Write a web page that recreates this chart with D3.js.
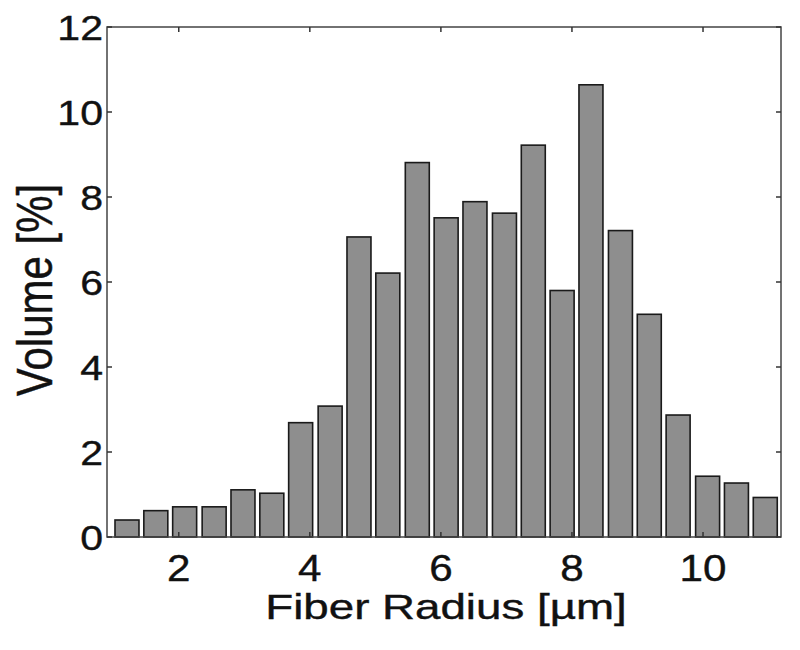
<!DOCTYPE html>
<html><head><meta charset="utf-8">
<script src="https://cdn.jsdelivr.net/npm/d3@7"></script>
<style>body{margin:0;background:#fff}text{font-family:"Liberation Sans",Arial,Helvetica,sans-serif;fill:#111}</style>
</head><body><svg id="c" width="800" height="650"></svg>
<script>
const radius = [1.21,1.65,2.09,2.54,2.98,3.42,3.86,4.31,4.75,5.19,5.64,6.08,6.52,6.97,7.41,7.85,8.29,8.74,9.18,9.62,10.07,10.51,10.95];
const volume = [0.40,0.62,0.71,0.71,1.11,1.03,2.69,3.08,7.06,6.21,8.81,7.51,7.89,7.62,9.22,5.80,10.64,7.21,5.24,2.87,1.43,1.27,0.93];
const xTicks = [2,4,6,8,10];
const yTicks = [0,2,4,6,8,10,12];
const xLabel = "Fiber Radius [\u00b5m]";
const yLabel = "Volume [%]";

const svg = d3.select("#c");
const L=107, R=781, T=27, B=537;
const x = d3.scaleLinear().domain([0.905,11.19]).range([L,R]);
const y = d3.scaleLinear().domain([0,12]).range([B,T]);
const barW = 0.366;
const sx = 1.14;

svg.append("g").selectAll("rect").data(volume).join("rect")
  .attr("x",(d,i)=>x(radius[i]-barW/2))
  .attr("width",(d,i)=>x(radius[i]+barW/2)-x(radius[i]-barW/2))
  .attr("y",d=>y(d)).attr("height",d=>y(0)-y(d))
  .attr("fill","#8e8e8e").attr("stroke","#1a1a1a").attr("stroke-width",1.6);

svg.append("rect").attr("x",L).attr("y",T).attr("width",R-L).attr("height",B-T)
  .attr("fill","none").attr("stroke","#444").attr("stroke-width",1.5);

const tl=5;
const ax = svg.append("g").attr("stroke","#333").attr("stroke-width",1.5);
xTicks.forEach(t=>{
  ax.append("line").attr("x1",x(t)).attr("x2",x(t)).attr("y1",B).attr("y2",B-tl);
  ax.append("line").attr("x1",x(t)).attr("x2",x(t)).attr("y1",T).attr("y2",T+tl);
});
yTicks.forEach(t=>{
  ax.append("line").attr("x1",L).attr("x2",L+tl).attr("y1",y(t)).attr("y2",y(t));
  ax.append("line").attr("x1",R).attr("x2",R-tl).attr("y1",y(t)).attr("y2",y(t));
});

svg.append("g").selectAll("text").data(xTicks).join("text")
  .attr("transform",d=>`translate(${x(d)},581) scale(${sx},1)`)
  .attr("text-anchor","middle").attr("font-size",37).attr("stroke","#111").attr("stroke-width",0.4).text(d=>d);
svg.append("g").selectAll("text").data(yTicks).join("text")
  .attr("transform",d=>`translate(103,${y(d)+13}) scale(${sx},1)`)
  .attr("text-anchor","end").attr("font-size",36).attr("stroke","#111").attr("stroke-width",0.4).text(d=>d);

svg.append("text").attr("transform",`translate(446,619) scale(1.27,1)`)
  .attr("text-anchor","middle").attr("font-size",36).attr("stroke","#111").attr("stroke-width",0.4).text(xLabel);
svg.append("text").attr("transform",`translate(52,290) scale(1.17,1) rotate(-90)`)
  .attr("text-anchor","middle").attr("font-size",42).attr("stroke","#111").attr("stroke-width",0.4).text(yLabel);
</script></body></html>
